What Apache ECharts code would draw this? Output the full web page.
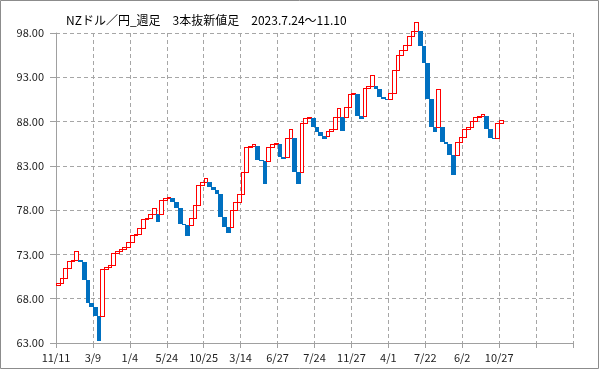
<!DOCTYPE html>
<html>
<head>
<meta charset="utf-8">
<script src="https://cdn.jsdelivr.net/npm/echarts@6/dist/echarts.min.js"></script>
<style>
html,body{margin:0;padding:0;background:#fff;}
#c{width:599px;height:369px;}
</style>
</head>
<body>
<div id="c"></div>
<script>
const titleText = 'NZドル／円_週足　3本抜新値足　2023.7.24～11.10';
const tickLabels = ['11/11','3/9','1/4','5/24','10/25','3/14','6/27','7/24','11/27','4/1','7/22','6/2','10/27','',''];
const opens = [
  69.55,69.75,70.29,71.42,72.30,72.40,72.40,72.13,70.09,67.46,
  67.07,66.10,66.10,71.30,71.55,71.80,73.20,73.40,73.60,73.80,
  74.36,75.18,75.26,75.94,76.99,77.14,77.59,77.59,77.59,79.18,
  79.33,79.33,78.95,78.20,76.46,76.31,76.31,77.07,78.58,80.84,
  81.22,81.22,80.61,80.24,79.79,77.22,76.12,76.12,78.01,78.92,
  79.78,82.31,85.10,85.25,85.25,83.67,83.55,83.55,85.17,85.45,
  85.45,83.97,83.97,86.12,86.12,82.35,82.35,87.80,88.38,88.38,
  87.44,86.85,86.38,86.38,86.99,87.14,88.49,88.49,88.49,89.70,
  91.06,91.06,88.64,88.64,91.81,92.04,92.04,91.66,90.76,90.60,
  90.60,91.28,93.85,95.50,96.11,96.68,97.69,98.20,98.20,96.49,
  94.60,90.50,87.44,87.44,87.44,85.65,85.50,84.18,84.18,85.70,
  86.30,87.17,87.40,88.08,88.50,88.65,88.65,87.17,86.20,86.20,
  87.82
];
const closes = [
  69.75,70.29,71.42,72.30,72.40,73.37,72.13,70.09,67.46,67.07,
  66.10,63.23,71.30,71.55,71.80,73.20,73.40,73.60,73.80,74.36,
  75.18,75.26,75.94,76.99,77.14,77.59,78.27,76.69,79.18,79.33,
  79.52,78.95,78.20,76.46,76.31,75.10,77.07,78.58,80.84,81.22,
  81.67,80.61,80.24,79.79,77.22,76.12,75.44,78.01,78.92,79.78,
  82.31,85.10,85.25,85.44,83.67,83.55,81.00,85.17,85.45,85.55,
  83.97,83.82,86.12,87.14,82.35,81.00,87.80,88.38,88.49,87.44,
  86.85,86.38,86.08,86.99,87.14,88.49,89.51,86.90,89.70,91.06,
  91.21,88.64,88.34,91.81,92.04,93.28,91.66,90.76,90.60,90.55,
  91.28,93.85,95.50,96.11,96.68,97.69,98.20,99.20,96.49,94.60,
  90.50,87.44,86.78,91.68,85.65,85.50,84.18,81.98,85.70,86.30,
  87.17,87.40,88.08,88.50,88.65,88.80,87.17,86.20,85.98,87.82,
  88.17
];

const data = opens.map((o, i) => [i, o, closes[i]]);
const chart = echarts.init(document.getElementById('c'), null, {renderer: 'canvas'});
const gridColor = '#a6a6a6';
const axisColor = '#a0a0a0';
const font = '"Noto Sans CJK JP", "Noto Sans", sans-serif';

chart.setOption({
  animation: false,
  backgroundColor: '#fff',
  title: {
    text: titleText, left: 61, top: 9,
    textStyle: {fontSize: 12, fontWeight: 'normal', color: '#000', fontFamily: font}
  },
  graphic: [{
    type: 'rect', shape: {x: 0.5, y: 0.5, width: 598, height: 368},
    style: {fill: 'none', stroke: '#8c8c8c', lineWidth: 1}, silent: true, z: 100
  }],
  grid: {left: 56, right: 26, top: 33, bottom: 26},
  xAxis: {
    type: 'value', min: 0, max: 140, interval: 10,
    axisLine: {show: true, lineStyle: {color: axisColor}},
    axisTick: {show: true, length: 5, lineStyle: {color: axisColor}},
    axisLabel: {
      margin: 9, fontSize: 11, color: '#222', fontFamily: font,
      formatter: v => tickLabels[Math.round(v / 10)] || ''
    },
    splitLine: {show: true, lineStyle: {color: gridColor, type: [4, 3]}}
  },
  yAxis: {
    type: 'value', min: 63, max: 98, interval: 5,
    axisLine: {show: true, lineStyle: {color: axisColor}},
    axisTick: {show: true, length: 6, lineStyle: {color: axisColor}},
    axisLabel: {
      margin: 12, fontSize: 11, color: '#222', fontFamily: font,
      formatter: v => v.toFixed(2)
    },
    splitLine: {show: true, lineStyle: {color: gridColor, type: [4, 3]}}
  },
  series: [{
    type: 'custom',
    clip: false,
    data: data,
    encode: {x: 0, y: [1, 2]},
    renderItem: function (params, api) {
      const i = api.value(0), o = api.value(1), c = api.value(2);
      const p0 = api.coord([i, o]);
      const p1 = api.coord([i + 1, c]);
      const x0 = Math.round(p0[0]), x1 = Math.round(p1[0]);
      const yTop = Math.round(Math.min(p0[1], p1[1]));
      let yBot = Math.round(Math.max(p0[1], p1[1]));
      if (yBot <= yTop) yBot = yTop + 1;
      if (c >= o) {
        const children = [{
          type: 'rect',
          shape: {x: x0, y: yTop, width: x1 - x0 + 1, height: yBot - yTop + 1},
          style: {fill: '#ff0000'}
        }];
        if (yBot - yTop > 1 && x1 - x0 > 1) {
          children.push({
            type: 'rect',
            shape: {x: x0 + 1, y: yTop + 1, width: x1 - x0 - 1, height: yBot - yTop - 1},
            style: {fill: '#ffffff'}
          });
        }
        return {type: 'group', children: children};
      }
      return {
        type: 'rect',
        shape: {x: x0, y: yTop, width: x1 - x0 + 1, height: yBot - yTop},
        style: {fill: '#0070c0'}
      };
    }
  }]
});
</script>
</body>
</html>
